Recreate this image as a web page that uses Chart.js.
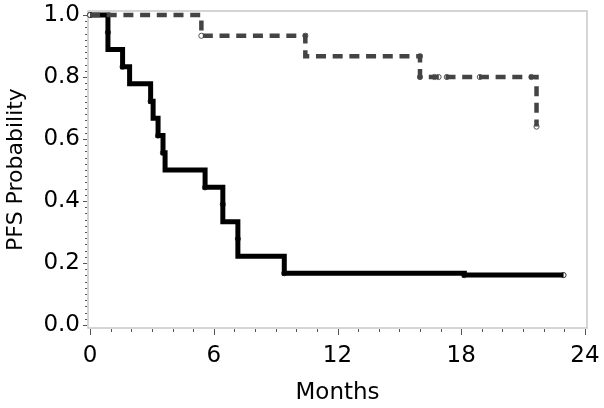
<!DOCTYPE html>
<html>
<head>
<meta charset="utf-8">
<script src="https://cdn.jsdelivr.net/npm/chart.js@4/dist/chart.umd.min.js"></script>
<style>
    html, body { margin: 0; padding: 0; background: #fff; }
    #wrap { width: 604px; height: 408px; }
</style>
</head>
<body>
<div id="wrap"><canvas id="chartPfs"></canvas></div>
<script>
// Curva sólida (grupo 1)
var solidMonths = [0, 0.87, 0.87, 1.58, 1.92, 2.94, 3.06, 3.30, 3.54, 3.64, 5.58, 6.44, 6.44, 7.17, 7.17, 9.42, 18.15, 22.96];
var solidProb   = [1, 0.944, 0.889, 0.833, 0.778, 0.722, 0.667, 0.611, 0.556, 0.5, 0.444, 0.389, 0.333, 0.278, 0.222, 0.167, 0.161, 0.161];
var solidMarkMonths = [0, 0.87, 1.58, 2.94, 3.30, 3.54, 5.58, 6.44, 7.17, 9.42, 18.15, 22.96];
var solidMarkProb   = [1, 0.944, 0.833, 0.722, 0.611, 0.556, 0.444, 0.389, 0.278, 0.167, 0.161, 0.161];

// Curva tracejada (grupo 2)
var dashMonths = [0, 5.40, 10.44, 16.0, 21.65];
var dashProb   = [1, 0.933, 0.867, 0.8, 0.64];
var dashMarkMonths = [0, 5.40, 10.44, 16.0, 16.0, 16.7, 16.9, 17.3, 18.9, 21.4, 21.65];
var dashMarkProb   = [1, 0.933, 0.933, 0.867, 0.8, 0.8, 0.8, 0.8, 0.8, 0.8, 0.64];

// Eixos
var xTicks = [0, 6, 12, 18, 24];
var yTicks = [0, 0.2, 0.4, 0.6, 0.8, 1.0];

function pts(xs, ys) {
    return xs.map(function (v, i) { return {x: v, y: ys[i]}; });
}

// moldura + ticks menores
var framePlugin = {
    id: 'frame',
    beforeDatasetsDraw: function (chart) {
        var a = chart.chartArea, ctx = chart.ctx;
        var sx = chart.scales.x, sy = chart.scales.y;
        ctx.save();
        ctx.strokeStyle = '#c8c8c8';
        ctx.lineWidth = 1.5;
        ctx.strokeRect(a.left, a.top, a.right - a.left, a.bottom - a.top);

        ctx.strokeStyle = '#555';
        ctx.lineWidth = 1;
        for (var m = 0; m <= 24; m++) {
            var px = Math.round(sx.getPixelForValue(m)) + 0.5;
            var len = (m % 6 === 0) ? 6 : 3;
            ctx.beginPath();
            ctx.moveTo(px, a.bottom + 1);
            ctx.lineTo(px, a.bottom + 1 + len);
            ctx.stroke();
        }
        for (var k = 0; k <= 50; k++) {
            var py = Math.round(sy.getPixelForValue(k * 0.02)) + 0.5;
            var l2 = (k % 10 === 0) ? 4 : 2;
            ctx.beginPath();
            ctx.moveTo(a.left - 1, py);
            ctx.lineTo(a.left - 1 - l2, py);
            ctx.stroke();
        }
        ctx.restore();
    }
};

var ctx = document.getElementById('chartPfs').getContext('2d');
var chart = new Chart(ctx, {
    type: 'line',
    data: {
        datasets: [
            {
                label: 'Grupo 2',
                data: pts(dashMonths, dashProb),
                borderColor: '#444',
                borderWidth: 4.5,
                borderDash: [10, 6.7],
                stepped: 'before',
                pointRadius: 0,
                fill: false,
                clip: false
            },
            {
                label: 'Grupo 1',
                data: pts(solidMonths, solidProb),
                borderColor: '#000',
                borderWidth: 5,
                stepped: 'before',
                pointRadius: 0,
                fill: false,
                clip: false
            },
            {
                type: 'scatter',
                data: pts(dashMarkMonths, dashMarkProb),
                pointRadius: 2.6,
                pointBackgroundColor: 'rgba(255,255,255,0.5)',
                pointBorderColor: '#555',
                pointBorderWidth: 1,
                showLine: false,
                clip: false
            },
            {
                type: 'scatter',
                data: pts(solidMarkMonths, solidMarkProb),
                pointRadius: 2.6,
                pointBackgroundColor: 'rgba(255,255,255,0.4)',
                pointBorderColor: '#333',
                pointBorderWidth: 1,
                showLine: false,
                clip: false
            }
        ]
    },
    options: {
        responsive: true,
        maintainAspectRatio: false,
        animation: false,
        layout: { padding: { top: 11, right: 17, left: 0, bottom: 0 } },
        plugins: {
            legend: { display: false },
            tooltip: { enabled: false }
        },
        scales: {
            x: {
                type: 'linear',
                min: -0.097,
                max: 24.097,
                afterBuildTicks: function (s) {
                    s.ticks = xTicks.map(function (v) { return {value: v}; });
                },
                afterFit: function (s) { s.height = 80; },
                // tickLength usado só como espaço até os rótulos
                grid: { display: false, drawTicks: true, tickLength: 14 },
                border: { display: false },
                ticks: {
                    padding: 0,
                    color: '#000',
                    font: { family: 'DejaVu Sans', size: 23 },
                    maxRotation: 0
                },
                title: {
                    display: true,
                    text: 'Months',
                    color: '#000',
                    font: { family: 'DejaVu Sans', size: 23 },
                    padding: { top: 0, bottom: 1 }
                }
            },
            y: {
                type: 'linear',
                min: -0.0097,
                max: 1.0129,
                afterBuildTicks: function (s) {
                    s.ticks = yTicks.map(function (v) { return {value: v}; });
                },
                afterFit: function (s) { s.width = 88; },
                grid: { display: false, drawTicks: true, tickLength: 8 },
                border: { display: false },
                ticks: {
                    padding: 0,
                    color: '#000',
                    font: { family: 'DejaVu Sans', size: 23, lineHeight: 0.9 },
                    callback: function (v) { return v.toFixed(1); }
                },
                title: {
                    display: true,
                    text: 'PFS Probability',
                    color: '#000',
                    font: { family: 'DejaVu Sans', size: 22 },
                    padding: { top: 3, bottom: 0 }
                }
            }
        }
    },
    plugins: [framePlugin]
});
</script>
</body>
</html>
